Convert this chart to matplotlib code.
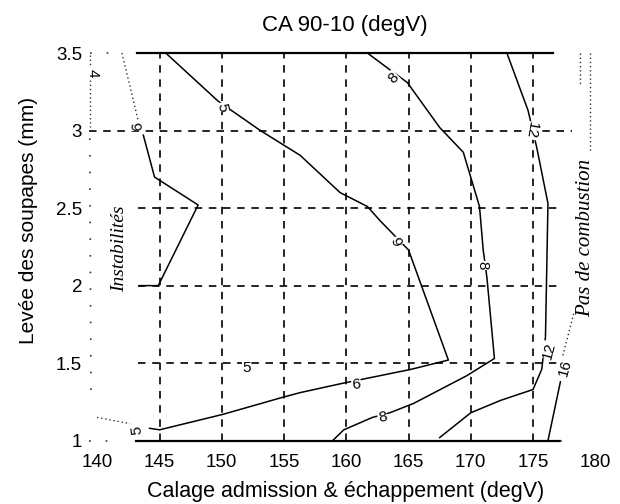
import matplotlib
matplotlib.use("Agg")
import matplotlib.pyplot as plt

plt.rcParams['font.family'] = ['Liberation Sans', 'DejaVu Sans']

# axis ticks
x_ticks = [140, 145, 150, 155, 160, 165, 170, 175, 180]
y_ticks = [1, 1.5, 2, 2.5, 3, 3.5]
y_tick_labels = ['1', '1.5', '2', '2.5', '3', '3.5']
grid_x = [145, 150, 155, 160, 165, 170, 175]
grid_y = [1.5, 2, 2.5, 3]

# iso-lines
iso_a_x = [145.5, 149.7, 153.1, 156.3, 159.5, 161.7, 162.7, 165.0, 168.2, 165.2, 159.7, 156.3, 154.9, 150.1, 145.0, 144.2]
iso_a_y = [3.5, 3.19, 3.0, 2.84, 2.6, 2.51, 2.42, 2.23, 1.52, 1.46, 1.37, 1.31, 1.28, 1.17, 1.07, 1.08]
iso_b_x = [143.7, 144.6, 148.1, 144.9, 143.4]
iso_b_y = [2.97, 2.70, 2.52, 2.0, 2.0]
iso_c_x = [161.7, 163.7, 164.9, 167.5, 169.4, 170.7, 171.0, 171.3, 171.9, 169.7, 165.4, 163.5, 162.1, 159.8, 158.9]
iso_c_y = [3.5, 3.38, 3.31, 3.02, 2.86, 2.51, 2.23, 2.05, 1.53, 1.42, 1.24, 1.18, 1.15, 1.07, 1.0]
iso_d_x = [172.9, 174.6, 175.3, 176.2, 176.0, 175.7, 175.0, 172.4, 170.0, 167.5]
iso_d_y = [3.5, 3.13, 2.89, 2.53, 1.67, 1.46, 1.33, 1.26, 1.18, 1.02]
iso_e_x = [177.2, 176.2]
iso_e_y = [1.38, 1.0]

# dotted boundaries
dots_left_x = [[139.98, 142.63], [141.98, 143.27], [139.42, 139.42]]
dots_left_y = [[1.15, 1.11], [3.5, 3.07], [3.49, 3.02]]
dots_right_x = [[179.6, 179.6], [178.8, 178.8], [177.4, 178.3]]
dots_right_y = [[3.5, 2.87], [3.5, 3.3], [1.55, 1.83]]
sparse_x = [[139.4, 141.9], [139.3, 141.85], [177.2, 178.2], [139.4, 139.5]]
sparse_y = [[3.5, 3.5], [1.0, 1.0], [1.0, 1.0], [2.95, 1.25]]

# contour labels: text, x, y, rotation
iso_labels = ['5', '6', '6', '5', '6', '8', '8', '8', '12', '12', '16', '4', '5']
iso_label_x = [150.0, 164.2, 160.8, 143.2, 143.3, 163.8, 170.9, 162.9, 174.9, 176.3, 177.6, 139.6, 152.0]
iso_label_y = [3.15, 2.29, 1.36, 1.07, 3.03, 3.34, 2.13, 1.15, 3.0, 1.58, 1.47, 3.37, 1.47]
iso_label_rot = [-80, 110, 5, 95, 95, 45, -90, 10, -100, 75, 75, -90, 0]

fig = plt.figure(figsize=(6.2, 5.04), dpi=100)
ax = fig.add_axes([0.1368, 0.1164, 0.8434, 0.7938])
ax.set_xlim(139, 181)
ax.set_ylim(0.97, 3.55)
for s in ax.spines.values():
    s.set_visible(False)

ax.set_xticks(x_ticks)
ax.set_yticks(y_ticks)
ax.set_yticklabels(y_tick_labels)
ax.tick_params(axis='x', length=0, pad=6, labelsize=13.5)
ax.tick_params(axis='y', length=0, pad=2, labelsize=13.5)

dash = (0, (4.5, 4))
# frame lines top and bottom
ax.plot([143.2, 176.6], [3.5, 3.5], color='black', lw=1.6)
ax.plot([143.1, 177.2], [1.0, 1.0], color='black', lw=1.6)
for gx in grid_x:
    ax.plot([gx, gx], [1.0, 3.5], color='black', lw=1.2, linestyle=dash)
for gy in grid_y:
    x0, x1 = (139.3, 178.1) if gy == 3 else (143.3, 177.1)
    ax.plot([x0, x1], [gy, gy], color='black', lw=1.2, linestyle=dash, clip_on=False)

for xs, ys in [(iso_a_x, iso_a_y), (iso_b_x, iso_b_y), (iso_c_x, iso_c_y),
               (iso_d_x, iso_d_y), (iso_e_x, iso_e_y)]:
    ax.plot(xs, ys, color='black', lw=1.1)

for xs, ys in zip(dots_left_x + dots_right_x, dots_left_y + dots_right_y):
    ax.plot(xs, ys, color='#333333', lw=1.0, linestyle=(0, (1, 2)), clip_on=False)
for xs, ys in zip(sparse_x, sparse_y):
    ax.plot(xs, ys, color='#333333', lw=1.2, linestyle=(0, (1, 9)), clip_on=False)

for t, x, y, r in zip(iso_labels, iso_label_x, iso_label_y, iso_label_rot):
    ax.text(x, y, t, fontsize=11, rotation=r, ha='center', va='center',
            rotation_mode='anchor', clip_on=False,
            bbox=dict(facecolor='white', edgecolor='none', pad=0.3))

ax.text(141.8, 2.24, 'Instabilités', family=['Liberation Serif'], style='italic',
        fontsize=14, rotation=90, ha='center', va='center')
ax.text(179.25, 2.31, 'Pas de combustion', family=['Liberation Serif'], style='italic',
        fontsize=15, rotation=90, ha='center', va='center', clip_on=False)

fig.text(345 / 620, 1 - 31 / 504, 'CA 90-10 (degV)', fontsize=16, ha='center', va='baseline')
fig.text(346 / 620, 1 - 491 / 504, 'Calage admission & échappement (degV)', fontsize=15.5,
         ha='center', va='center')
fig.text(29 / 620, 1 - 220 / 504, 'Levée des soupapes (mm)', fontsize=15, rotation=90,
         ha='center', va='center')

fig.savefig('out.png', dpi=100)
